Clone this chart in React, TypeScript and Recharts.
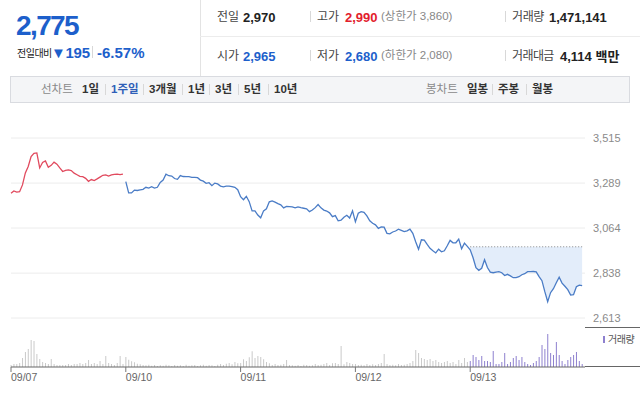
import React from "react";
import {
  ComposedChart,
  Line,
  Area,
  Bar,
  Cell,
  XAxis,
  YAxis,
  CartesianGrid,
} from "recharts";

// trading days shown on the 1-week line chart
const DAYS = ["09/07", "09/10", "09/11", "09/12", "09/13"];
const DAY_LEN = 40; // samples per day

const PREV_CLOSE = 2970;
const Y_TICKS = [2613, 2838, 3064, 3289, 3515];

// intraday prices per day
const PRICE_0907 = [3238, 3250, 3244, 3246, 3280, 3340, 3372, 3422, 3438, 3440, 3365, 3392, 3400, 3368, 3378, 3394, 3384, 3365, 3347, 3353, 3355, 3352, 3339, 3331, 3323, 3321, 3313, 3298, 3307, 3302, 3310, 3319, 3328, 3330, 3324, 3330, 3333, 3334, 3332, 3334];
const PRICE_0910 = [3296, 3240, 3240, 3254, 3252, 3255, 3258, 3268, 3264, 3271, 3264, 3268, 3292, 3304, 3334, 3326, 3324, 3312, 3308, 3327, 3322, 3321, 3321, 3318, 3318, 3316, 3304, 3299, 3288, 3291, 3276, 3289, 3285, 3274, 3270, 3274, 3274, 3271, 3268, 3256];
const PRICE_0911 = [3221, 3206, 3223, 3196, 3150, 3150, 3129, 3115, 3150, 3160, 3195, 3200, 3194, 3186, 3180, 3165, 3172, 3171, 3170, 3165, 3170, 3166, 3163, 3160, 3146, 3154, 3166, 3182, 3165, 3154, 3149, 3140, 3121, 3126, 3100, 3103, 3118, 3128, 3114, 3150];
const PRICE_0912 = [3095, 3138, 3146, 3143, 3125, 3100, 3088, 3080, 3062, 3070, 3068, 3037, 3035, 3044, 3049, 3058, 3052, 3046, 3050, 3058, 3037, 2995, 2958, 3005, 3003, 2982, 2962, 2950, 2939, 2958, 2945, 2950, 2975, 3002, 2990, 2990, 3008, 2960, 2988, 2972];
const PRICE_0913 = [2955, 2915, 2865, 2852, 2862, 2905, 2866, 2843, 2840, 2843, 2845, 2840, 2826, 2832, 2824, 2815, 2815, 2820, 2830, 2835, 2845, 2845, 2846, 2844, 2820, 2800, 2745, 2695, 2740, 2760, 2790, 2818, 2788, 2772, 2755, 2728, 2730, 2770, 2778, 2775];

// volume per sample (thousand shares)
const VOL_0907 = [8, 12, 12, 16, 36, 60, 72, 108, 104, 52, 32, 20, 16, 12, 32, 12, 8, 8, 8, 8, 12, 8, 12, 12, 16, 12, 16, 28, 12, 16, 12, 24, 12, 44, 16, 12, 8, 16, 44, 12];
const VOL_0910 = [40, 29, 23, 19, 13, 11, 8, 7, 9, 5, 8, 4, 7, 5, 9, 7, 4, 8, 5, 7, 4, 9, 5, 7, 8, 4, 7, 9, 5, 8, 7, 4, 9, 12, 8, 13, 16, 11, 20, 15];
const VOL_0911 = [16, 31, 24, 39, 63, 36, 44, 40, 31, 20, 15, 8, 12, 8, 9, 12, 28, 8, 7, 5, 8, 4, 9, 8, 5, 7, 12, 8, 9, 12, 16, 8, 15, 16, 12, 84, 11, 20, 16, 12];
const VOL_0912 = [12, 8, 9, 7, 12, 8, 11, 8, 12, 16, 52, 12, 8, 9, 7, 12, 8, 9, 12, 16, 24, 68, 56, 36, 32, 28, 32, 24, 28, 20, 16, 20, 24, 16, 20, 12, 28, 16, 36, 20];
const VOL_0913 = [24, 48, 40, 28, 44, 24, 24, 20, 64, 12, 12, 20, 56, 12, 20, 36, 44, 28, 40, 20, 12, 8, 16, 24, 40, 88, 72, 132, 56, 48, 100, 48, 24, 12, 28, 40, 48, 60, 24, 12];

const PRICES = [PRICE_0907, PRICE_0910, PRICE_0911, PRICE_0912, PRICE_0913];
const VOLUMES = [VOL_0907, VOL_0910, VOL_0911, VOL_0912, VOL_0913];

const data = PRICES.flatMap((day, d) =>
  day.map((p, k) => {
    const today = d === PRICES.length - 1;
    return {
      i: d * DAY_LEN + k,
      first: d === 0 ? p : null,
      rest: d > 0 ? p : null,
      band: today ? [p, PREV_CLOSE] : null,
      prev: today ? PREV_CLOSE : null,
      vol: VOLUMES[d][k],
      today,
    };
  })
);

const dayStarts = DAYS.map((_, d) => d * DAY_LEN);
const X_DOMAIN = [0, DAYS.length * DAY_LEN];

const FONT = '"Liberation Sans", Arial, "Noto Sans CJK KR", sans-serif';
const BLUE = "#1d5fcb";
const RED = "#e2202c";

const T = ({ x, y, size = 12, color = "#333", bold = false, children, style = {} }: any) => (
  <div
    style={{
      position: "absolute",
      left: x,
      top: y,
      fontSize: size,
      color,
      fontWeight: bold ? 700 : 400,
      lineHeight: 1,
      whiteSpace: "nowrap",
      ...style,
    }}
  >
    {children}
  </div>
);

const Sep = ({ x, y, h = 11 }: any) => (
  <div style={{ position: "absolute", left: x, top: y, width: 1, height: h, background: "#d8d8d8" }} />
);

const DateTick = ({ x, y, payload }: any) => (
  <text x={x} y={y} dy="0.62em" textAnchor="start" fontSize={10.5} fill="#666" fontFamily={FONT}>
    {DAYS[Math.round(payload.value / DAY_LEN)]}
  </text>
);

const LINE_TABS = ["1일", "1주일", "3개월", "1년", "3년", "5년", "10년"];
const LINE_TAB_X = [82, 111, 149, 188, 215, 244, 274];
const CANDLE_TABS = ["일봉", "주봉", "월봉"];
const CANDLE_TAB_X = [467, 498, 532];

export default function App() {
  return (
    <div
      style={{
        position: "absolute",
        left: 0,
        top: 0,
        width: 640,
        height: 398,
        background: "#fff",
        fontFamily: FONT,
        overflow: "hidden",
      }}
    >
      {/* header */}
      <T x={16} y={12} size={28} bold color={BLUE} style={{ letterSpacing: -1.6 }}>2,775</T>
      <T x={17} y={49} size={10} color="#222" style={{ letterSpacing: -0.5 }}>전일대비</T>
      <T x={51} y={45} size={15} bold color={BLUE} style={{ letterSpacing: -0.3 }}>▼195</T>
      <Sep x={92} y={46} h={12} />
      <T x={97} y={45} size={15} bold color={BLUE}>-6.57%</T>

      <div style={{ position: "absolute", left: 200, top: 0, width: 1, height: 76, background: "#e3e3e3" }} />
      <div style={{ position: "absolute", left: 200, top: 36, width: 440, height: 1, background: "#ececec" }} />

      <T x={217} y={11} size={12} color="#444">전일</T>
      <T x={243} y={11} size={13} bold color="#222">2,970</T>
      <Sep x={310} y={11} />
      <T x={317} y={11} size={12} color="#444">고가</T>
      <T x={345} y={11} size={13} bold color={RED}>2,990</T>
      <T x={381} y={11} size={11.5} color="#888">(상한가 3,860)</T>
      <Sep x={505} y={11} />
      <T x={512} y={11} size={12} color="#444" style={{ letterSpacing: -0.4 }}>거래량</T>
      <T x={549} y={11} size={13} bold color="#222">1,471,141</T>

      <T x={217} y={50} size={12} color="#444">시가</T>
      <T x={243} y={50} size={13} bold color={BLUE}>2,965</T>
      <Sep x={310} y={50} />
      <T x={317} y={50} size={12} color="#444">저가</T>
      <T x={345} y={50} size={13} bold color={BLUE}>2,680</T>
      <T x={381} y={50} size={11.5} color="#888">(하한가 2,080)</T>
      <Sep x={505} y={50} />
      <T x={512} y={50} size={12} color="#444" style={{ letterSpacing: -0.6 }}>거래대금</T>
      <T x={560} y={50} size={13} bold color="#222">4,114 백만</T>

      {/* toolbar */}
      <div
        style={{
          position: "absolute",
          left: 10,
          top: 76,
          width: 620,
          height: 27,
          background: "#f4f5f7",
          border: "1px solid #d9dbe0",
          boxSizing: "border-box",
        }}
      />
      <T x={41} y={84} size={11.5} color="#8a8a8a">선차트</T>
      {LINE_TABS.map((t, k) => (
        <React.Fragment key={t}>
          {k > 0 && <Sep x={LINE_TAB_X[k] - 6} y={84} h={11} />}
          <T x={LINE_TAB_X[k]} y={84} size={11.5} bold color={t === "1주일" ? "#2f5fb8" : "#333"}>{t}</T>
        </React.Fragment>
      ))}
      <T x={426} y={84} size={11.5} color="#8a8a8a">봉차트</T>
      {CANDLE_TABS.map((t, k) => (
        <React.Fragment key={t}>
          {k > 0 && <Sep x={CANDLE_TAB_X[k] - 6} y={84} h={11} />}
          <T x={CANDLE_TAB_X[k]} y={84} size={11.5} bold color="#333">{t}</T>
        </React.Fragment>
      ))}

      {/* price chart */}
      <div style={{ position: "absolute", left: 0, top: 128 }}>
        <ComposedChart width={640} height={200} data={data} margin={{ top: 10, right: 0, bottom: 1, left: 11 }}>
          <CartesianGrid stroke="#ececec" verticalValues={dayStarts.slice(1)} horizontalValues={Y_TICKS} />
          <XAxis
            type="number"
            dataKey="i"
            domain={X_DOMAIN}
            ticks={dayStarts.slice(1)}
            tick={false}
            tickLine={false}
            height={0}
            axisLine={{ stroke: "#666" }}
          />
          <YAxis
            orientation="right"
            domain={[2568, 3515]}
            ticks={Y_TICKS}
            width={55}
            axisLine={false}
            tickLine={false}
            tickSize={0}
            tickMargin={8}
            tick={{ fontSize: 11, fill: "#8a8a8a", fontFamily: FONT }}
            tickFormatter={(v: number) => v.toLocaleString("en-US")}
          />
          <Area
            dataKey="band"
            type="linear"
            stroke="none"
            fill="#e3edfa"
            fillOpacity={1}
            isAnimationActive={false}
          />
          <Line
            dataKey="prev"
            type="linear"
            stroke="#888"
            strokeWidth={1}
            strokeDasharray="1 2"
            dot={false}
            isAnimationActive={false}
          />
          <Line dataKey="first" type="linear" stroke="#e14a5e" strokeWidth={1.3} dot={false} isAnimationActive={false} />
          <Line dataKey="rest" type="linear" stroke="#4a7cc6" strokeWidth={1.3} dot={false} isAnimationActive={false} />
        </ComposedChart>
      </div>
      <div style={{ position: "absolute", left: 585, top: 327, width: 55, height: 1, background: "#666" }} />

      {/* volume chart */}
      <div style={{ position: "absolute", left: 0, top: 330 }}>
        <ComposedChart width={640} height={60} data={data} margin={{ top: 3, right: 55, bottom: 0, left: 11 }}>
          <XAxis
            type="number"
            dataKey="i"
            domain={X_DOMAIN}
            ticks={dayStarts}
            interval={0}
            tickSize={5}
            tickLine={{ stroke: "#777" }}
            axisLine={{ stroke: "#666" }}
            height={23}
            tick={<DateTick />}
          />
          <YAxis hide domain={[0, 136]} />
          <Bar dataKey="vol" name="거래량" barSize={1} isAnimationActive={false}>
            {data.map((e) => (
              <Cell key={e.i} fill={e.today ? "#8e80cf" : "#c9c9c9"} />
            ))}
          </Bar>
        </ComposedChart>
      </div>
      <div style={{ position: "absolute", left: 585, top: 366, width: 55, height: 1, background: "#666" }} />
      <div style={{ position: "absolute", left: 603, top: 336, width: 2, height: 7, background: "#8e80cf" }} />
      <T x={608} y={335} size={10} color="#555" style={{ letterSpacing: -0.5 }}>거래량</T>
    </div>
  );
}
